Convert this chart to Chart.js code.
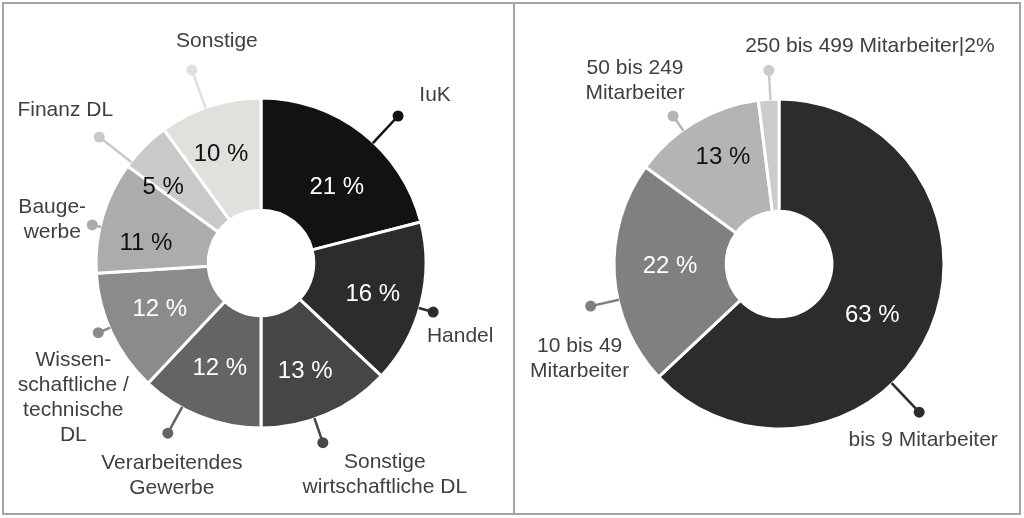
<!DOCTYPE html>
<html>
<head>
<meta charset="utf-8">
<script src="https://cdn.jsdelivr.net/npm/chart.js@4/dist/chart.umd.min.js"></script>
<style>
  html, body { margin:0; padding:0; background:#ffffff; }
  body { width:1024px; height:518px; position:relative; overflow:hidden; }
  .frame { position:absolute; left:2px; top:2px; width:1019px; height:513px; box-sizing:border-box; border:2px solid #a4a4a4; }
  .divider { position:absolute; left:513px; top:2px; width:2px; height:513px; background:#a4a4a4; }
  canvas { position:absolute; left:0; top:0; }
</style>
</head>
<body>
<div class="frame"></div>
<div class="divider"></div>
<canvas id="left" width="1024" height="518"></canvas>
<canvas id="right" width="1024" height="518"></canvas>
<script>
// ---------- DATA ----------
const leftCategories = ['IuK', 'Handel', 'Sonstige wirtschaftliche DL', 'Verarbeitendes Gewerbe',
  'Wissenschaftliche / technische DL', 'Baugewerbe', 'Finanz DL', 'Sonstige'];
const leftValues = [21, 16, 13, 12, 12, 11, 5, 10];
const leftLabelLines = [['IuK'], ['Handel'], ['Sonstige', 'wirtschaftliche DL'], ['Verarbeitendes', 'Gewerbe'],
  ['Wissen-', 'schaftliche /', 'technische', 'DL'], ['Bauge-', 'werbe'], ['Finanz DL'], ['Sonstige']];

const rightCategories = ['bis 9 Mitarbeiter', '10 bis 49 Mitarbeiter', '50 bis 249 Mitarbeiter', '250 bis 499 Mitarbeiter'];
const rightValues = [63, 22, 13, 2];
const rightLabelLines = [['bis 9 Mitarbeiter'], ['10 bis 49', 'Mitarbeiter'], ['50 bis 249', 'Mitarbeiter'], ['250 bis 499 Mitarbeiter|2%']];

// ---------- STYLE / LAYOUT ----------
const leftColors = ['#121212', '#2c2c2c', '#464646', '#646464', '#8b8b8b', '#acacac', '#c9c9c7', '#e0e0dc'];
const leftPctColors = ['#ffffff', '#ffffff', '#ffffff', '#ffffff', '#ffffff', '#111111', '#111111', '#111111'];
const rightColors = ['#2c2c2c', '#808080', '#b6b4b3', '#cbcbcb'];
const rightPctColors = ['#ffffff', '#ffffff', '#111111', '#111111'];

// leader: angle offset from slice middle (deg), end radius (px), text offset from dot
const leftLayout = {
  leaderDeg: [5.2, 1.5, 4.4, 7.1, 2, -3.5, -7.1, -1.7],
  leaderR: [201, 179, 190, 194, 177, 173, 205, 205],
  textOff: [[37,-21],[27,24],[62,20],[4,30],[-25,27],[-40,-18],[-34,-27],[25,-29]],
  pctDeg: [6.8, 1, 1, 0, 1, -6, -7, -2],
  pctR: [108, 116, 116, 112, 111, 117, 124, 117],
  showPct: [true, true, true, true, true, true, true, true]
};
const rightLayout = {
  leaderDeg: [23.2, -9, -5, 0.6],
  leaderR: [204, 193, 182, 194],
  textOff: [[4,28],[-11,40],[-38,-48],[101,-24]],
  pctDeg: [5, 3, 3, 0],
  pctR: [106, 109, 121, 110],
  showPct: [true, true, true, false]
};

const FONT = '"Liberation Sans", Arial, Helvetica, sans-serif';

function makePlugin(labelLines, colors, pctColors, layout) {
  return {
    id: 'annot',
    afterDatasetsDraw(chart) {
      const ctx = chart.ctx;
      const meta = chart.getDatasetMeta(0);
      const values = chart.data.datasets[0].data;
      ctx.save();
      meta.data.forEach((arc, i) => {
        const p = arc.getProps(['x', 'y', 'startAngle', 'endAngle', 'outerRadius', 'innerRadius'], true);
        const mid = (p.startAngle + p.endAngle) / 2;
        // leader line + dot
        const la = mid + layout.leaderDeg[i] * Math.PI / 180;
        const x0 = p.x + (p.outerRadius - 1) * Math.cos(la), y0 = p.y + (p.outerRadius - 1) * Math.sin(la);
        const x1 = p.x + layout.leaderR[i] * Math.cos(la), y1 = p.y + layout.leaderR[i] * Math.sin(la);
        ctx.strokeStyle = colors[i];
        ctx.fillStyle = colors[i];
        ctx.lineWidth = 2.5;
        ctx.beginPath(); ctx.moveTo(x0, y0); ctx.lineTo(x1, y1); ctx.stroke();
        ctx.beginPath(); ctx.arc(x1, y1, 5.5, 0, Math.PI * 2); ctx.fill();
        // category label
        ctx.fillStyle = '#404040';
        ctx.font = '21px ' + FONT;
        ctx.textAlign = 'center';
        ctx.textBaseline = 'middle';
        const lines = labelLines[i];
        lines.forEach((t, k) => {
          ctx.fillText(t, x1 + layout.textOff[i][0], y1 + layout.textOff[i][1] + k * 25);
        });
        // percentage label
        if (layout.showPct[i]) {
          const pa = mid + layout.pctDeg[i] * Math.PI / 180;
          ctx.fillStyle = pctColors[i];
          ctx.font = '24px ' + FONT;
          ctx.fillText(values[i] + ' %', p.x + layout.pctR[i] * Math.cos(pa), p.y + layout.pctR[i] * Math.sin(pa) + 1);
        }
      });
      ctx.restore();
    }
  };
}

function makeChart(id, cats, vals, colors, pad, plugin) {
  return new Chart(document.getElementById(id), {
    type: 'doughnut',
    data: { labels: cats, datasets: [{ data: vals, backgroundColor: colors, borderColor: '#ffffff', borderWidth: 3, hoverOffset: 0 }] },
    options: {
      responsive: false,
      animation: false,
      cutout: '32%',
      radius: 165,
      layout: { padding: pad },
      plugins: { legend: { display: false }, tooltip: { enabled: false } },
      events: []
    },
    plugins: [plugin]
  });
}

makeChart('left', leftCategories, leftValues, leftColors, { left: 0, right: 502, top: 8, bottom: 0 },
  makePlugin(leftLabelLines, leftColors, leftPctColors, leftLayout));
makeChart('right', rightCategories, rightValues, rightColors, { left: 534, right: 0, top: 10, bottom: 0 },
  makePlugin(rightLabelLines, rightColors, rightPctColors, rightLayout));
</script>
</body>
</html>
